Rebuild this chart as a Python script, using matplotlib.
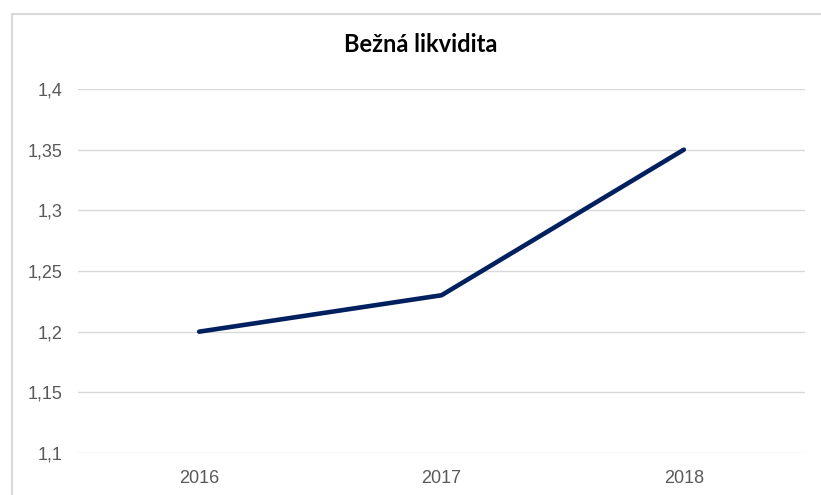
import matplotlib.pyplot as plt
from matplotlib.patches import Rectangle
from matplotlib.ticker import FuncFormatter

roky = ["2016", "2017", "2018"]
likvidita = [1.20, 1.23, 1.35]
y_ticky = [1.1, 1.15, 1.2, 1.25, 1.3, 1.35, 1.4]

fig = plt.figure(figsize=(8.21, 4.95), dpi=100)
ax = fig.add_axes([78 / 821, 42 / 495, 727 / 821, 364 / 495])

ax.plot(range(len(roky)), likvidita, color="#002060", lw=3.3, solid_capstyle="round")

ax.set_xlim(-0.5, len(roky) - 0.5)
ax.set_ylim(1.1, 1.4)
ax.set_xticks(range(len(roky)))
ax.set_xticklabels(roky)
ax.set_yticks(y_ticky)
ax.yaxis.set_major_formatter(FuncFormatter(lambda v, p: f"{v:g}".replace(".", ",")))

ax.grid(axis="y", color="#d9d9d9", lw=1)
ax.set_axisbelow(True)
for s in ax.spines.values():
    s.set_visible(False)
ax.tick_params(length=0, labelsize=13, labelcolor="#595959")
ax.tick_params(axis="x", pad=12)
ax.tick_params(axis="y", pad=11)
for lab in ax.get_xticklabels() + ax.get_yticklabels():
    lab.set_fontfamily("Liberation Sans")

fig.text(421 / 821, 1 - 45 / 495, "Bežná likvidita", ha="center", va="center",
         fontsize=17, fontweight="bold", fontfamily="Lato", color="#000000")

# okraj grafu
fig.patches.append(Rectangle((12 / 821, -0.1), 1.0, 1 - 14 / 495 + 0.1,
                             transform=fig.transFigure, fill=False,
                             edgecolor="#d9d9d9", lw=1.5))

fig.savefig("out.png", dpi=100)
